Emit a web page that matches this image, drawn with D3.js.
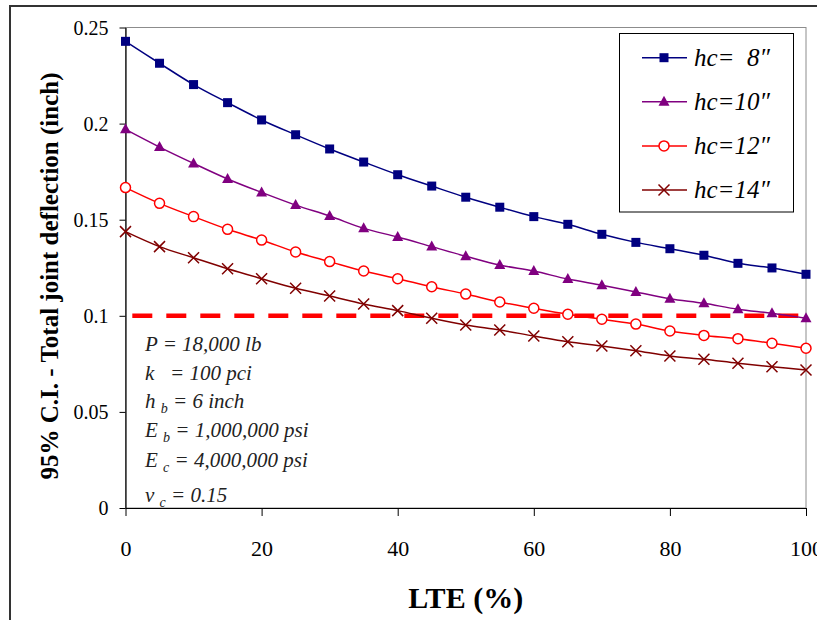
<!DOCTYPE html>
<html>
<head>
<meta charset="utf-8">
<title>Total joint deflection vs LTE</title>
<script src="https://d3js.org/d3.v7.min.js"></script>
<style>
  body { margin: 0; background: #fff; }
  svg { display: block; }
  svg text { font-family: "Liberation Serif", "Times New Roman", "DejaVu Serif", serif !important; }
  .pre { white-space: pre; }
</style>
</head>
<body>
<div id="chart"></div>
<script>
// LTE values (%)
var lte = [0, 5, 10, 15, 20, 25, 30, 35, 40, 45, 50, 55, 60, 65, 70, 75, 80, 85, 90, 95, 100];

// 95% C.I. total joint deflection (inch)
var hc8  = [0.2428, 0.2314, 0.2203, 0.2109, 0.2019, 0.1942, 0.1868, 0.1800, 0.1734, 0.1675, 0.1617,
            0.1565, 0.1516, 0.1476, 0.1424, 0.1382, 0.1349, 0.1315, 0.1273, 0.1249, 0.1216];
var hc10 = [0.1970, 0.1878, 0.1793, 0.1712, 0.1642, 0.1576, 0.1519, 0.1455, 0.1410, 0.1360, 0.1310,
            0.1264, 0.1233, 0.1191, 0.1159, 0.1124, 0.1089, 0.1065, 0.1034, 0.1013, 0.0987];
var hc12 = [0.1667, 0.1585, 0.1516, 0.1450, 0.1394, 0.1332, 0.1282, 0.1233, 0.1193, 0.1151, 0.1113,
            0.1072, 0.1039, 0.1008, 0.0982, 0.0957, 0.0921, 0.0898, 0.0881, 0.0857, 0.0831];
var hc14 = [0.1438, 0.1360, 0.1302, 0.1245, 0.1193, 0.1143, 0.1103, 0.1061, 0.1027, 0.0987, 0.0952,
            0.0926, 0.0895, 0.0865, 0.0843, 0.0818, 0.0791, 0.0774, 0.0753, 0.0735, 0.0718];

var seriesNames = ["hc=  8\u2033", "hc=10\u2033", "hc=12\u2033", "hc=14\u2033"];

// limit line
var limitValue = 0.1;
var limitRange = [1, 100];

var xTicks = [0, 20, 40, 60, 80, 100];
var yTicks = [0, 0.05, 0.1, 0.15, 0.2, 0.25];
var yTickLabels = ["0", "0.05", "0.1", "0.15", "0.2", "0.25"];

var width = 817, height = 620;
var margin = {left: 125.5, right: 11, top: 27.5, bottom: 112};

var svg = d3.select("#chart").append("svg")
    .attr("width", width)
    .attr("height", height);

// outer frame
svg.append("rect")
    .attr("x", 10).attr("y", 6)
    .attr("width", 830).attr("height", 640)
    .attr("fill", "#fff")
    .attr("stroke", "#333")
    .attr("stroke-width", 2);

var x = d3.scaleLinear().domain([0, 100]).range([margin.left, width - margin.right]);
var y = d3.scaleLinear().domain([0, 0.25]).range([height - margin.bottom, margin.top]);

// plot area border (grey top / right)
svg.append("rect")
    .attr("x", x(0)).attr("y", y(0.25))
    .attr("width", x(100) - x(0)).attr("height", y(0) - y(0.25))
    .attr("fill", "none")
    .attr("stroke", "#8c8c8c")
    .attr("stroke-width", 1);

// axes
var yAxis = svg.append("g")
    .attr("transform", "translate(" + x(0) + ",0)")
    .call(d3.axisLeft(y).tickValues(yTicks).tickSize(6).tickSizeOuter(0)
        .tickFormat(function(d, i) { return yTickLabels[i]; }));
yAxis.select(".domain").attr("stroke", "#000").attr("stroke-width", 1.2);
yAxis.selectAll(".tick line").attr("stroke", "#000");
yAxis.selectAll("text")
    .attr("x", -17)
    .attr("dy", "0.33em")
    .attr("font-size", 20)
    .attr("fill", "#000");

var xAxis = svg.append("g")
    .attr("transform", "translate(0," + y(0) + ")")
    .call(d3.axisBottom(x).tickValues(xTicks).tickSize(8).tickSizeOuter(0));
xAxis.select(".domain").attr("stroke", "#000").attr("stroke-width", 1.2);
xAxis.selectAll(".tick line").attr("stroke", "#000");
xAxis.selectAll("text")
    .attr("y", 48)
    .attr("dy", 0)
    .attr("font-size", 22)
    .attr("fill", "#000");

// axis titles
svg.append("text")
    .attr("transform", "translate(58," + 276 + ") rotate(-90)")
    .attr("text-anchor", "middle")
    .attr("font-weight", "bold")
    .attr("font-size", 25)
    .text("95% C.I. - Total joint deflection (inch)");

svg.append("text")
    .attr("x", (x(0) + x(100)) / 2)
    .attr("y", 608)
    .attr("text-anchor", "middle")
    .attr("font-weight", "bold")
    .attr("font-size", 30)
    .text("LTE (%)");

// dashed limit line
svg.append("line")
    .attr("x1", x(limitRange[0])).attr("x2", x(limitRange[1]))
    .attr("y1", y(limitValue)).attr("y2", y(limitValue))
    .attr("stroke", "#ff0000")
    .attr("stroke-width", 4.5)
    .attr("stroke-dasharray", "20,14");

// series
var colors = ["#000080", "#800080", "#ff0000", "#800000"];
var allValues = [hc8, hc10, hc12, hc14];

var line = d3.line()
    .x(function(d) { return x(d[0]); })
    .y(function(d) { return y(d[1]); })
    .curve(d3.curveCatmullRom);

function drawMarker(g, type, color) {
    if (type == 0) {
        g.append("rect").attr("x", -4.5).attr("y", -4.5).attr("width", 9).attr("height", 9)
            .attr("fill", color);
    } else if (type == 1) {
        g.append("path").attr("d", "M0,-6L5.5,4L-5.5,4Z").attr("fill", color);
    } else if (type == 2) {
        g.append("circle").attr("r", 5).attr("fill", "#fff")
            .attr("stroke", color).attr("stroke-width", 1.5);
    } else {
        g.append("path").attr("d", "M-5.5,-5.5L5.5,5.5M-5.5,5.5L5.5,-5.5")
            .attr("stroke", color).attr("stroke-width", 1.5).attr("fill", "none");
    }
}

allValues.forEach(function(vals, s) {
    var pts = lte.map(function(l, i) { return [l, vals[i]]; });
    svg.append("path")
        .datum(pts)
        .attr("d", line)
        .attr("fill", "none")
        .attr("stroke", colors[s])
        .attr("stroke-width", 1.5);
    svg.selectAll(".m" + s)
        .data(pts)
        .enter()
        .append("g")
        .attr("class", "m" + s)
        .attr("transform", function(d) { return "translate(" + x(d[0]) + "," + y(d[1]) + ")"; })
        .each(function() { drawMarker(d3.select(this), s, colors[s]); });
});

// legend
var legend = svg.append("g");
legend.append("rect")
    .attr("x", 619.5).attr("y", 33.5)
    .attr("width", 174).attr("height", 178.5)
    .attr("fill", "#fff")
    .attr("stroke", "#000")
    .attr("stroke-width", 1);

seriesNames.forEach(function(name, i) {
    var ly = 57.7 + i * 44.1;
    var g = legend.append("g");
    g.append("line")
        .attr("x1", 642).attr("x2", 687)
        .attr("y1", ly).attr("y2", ly)
        .attr("stroke", colors[i]).attr("stroke-width", 1.5);
    var mg = g.append("g").attr("transform", "translate(664," + ly + ")");
    drawMarker(mg, i, colors[i]);
    g.append("text")
        .attr("class", "pre")
        .attr("x", 694).attr("y", ly)
        .attr("dy", "0.33em")
        .attr("font-size", 25)
        .attr("font-style", "italic")
        .text(name);
});

// parameter notes
var notes = [
    ["P", "", " = 18,000 lb"],
    ["k", "", "   = 100 pci"],
    ["h", "b", " = 6 inch"],
    ["E", "b", " = 1,000,000 psi"],
    ["E", "c", " = 4,000,000 psi"],
    ["\u03bd", "c", " = 0.15"]
];
var noteY = [350.5, 380, 407.5, 437, 467, 501.5];

notes.forEach(function(n, i) {
    var t = svg.append("text")
        .attr("class", "pre")
        .attr("x", 145).attr("y", noteY[i])
        .attr("font-size", 21)
        .attr("font-style", "italic")
        .attr("fill", "#222");
    t.append("tspan").text(n[0]);
    if (n[1] != "") {
        t.append("tspan").text(" ");
        t.append("tspan").attr("font-size", 14).attr("dy", 5).text(n[1]);
        t.append("tspan").attr("dy", -5).text(n[2]);
    } else {
        t.append("tspan").text(n[2]);
    }
});
</script>
</body>
</html>
